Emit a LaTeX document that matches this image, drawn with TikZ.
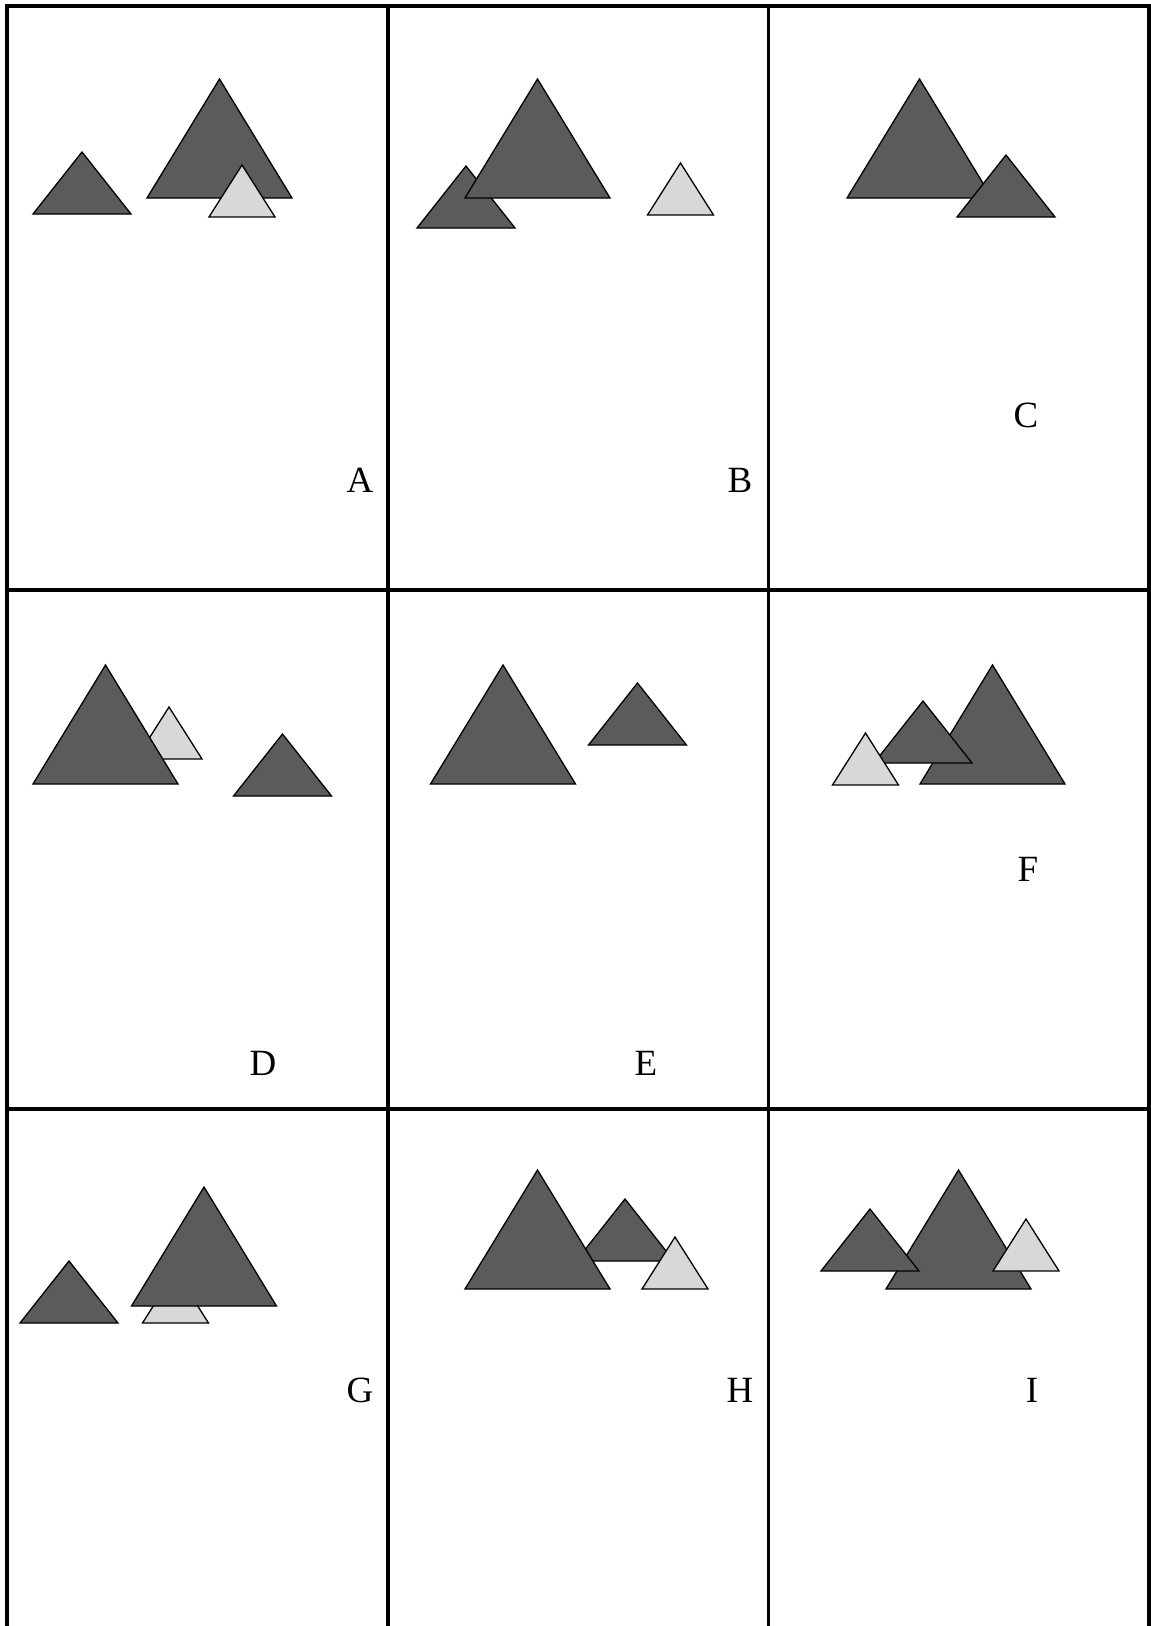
\documentclass[tikz,border=0pt]{standalone}
\usepackage{fontspec}
\setmainfont{Liberation Serif}
\definecolor{darkt}{HTML}{5B5B5B}
\definecolor{lightt}{HTML}{D8D8D8}
\tikzset{
  grid line/.style={line width=3.5pt, line cap=rect},
  darktri/.style={fill=darkt, draw=black, line width=1.3pt, line join=miter},
  lighttri/.style={fill=lightt, draw=black, line width=1.3pt, line join=miter},
  lbl/.style={font=\fontsize{37}{40}\selectfont, inner sep=0pt}
}
% \trib{apex x}{apex y}{half width}{height}{style}
\newcommand{\trib}[5]{\path[#5] (#1,#2) -- ({#1-#3},{#2+#4}) -- ({#1+#3},{#2+#4}) -- cycle;}
\newcommand{\bigt}[2]{\trib{#1}{#2}{72.5}{119}{darktri}}
\newcommand{\smallt}[2]{\trib{#1}{#2}{49}{62}{darktri}}
\newcommand{\lightt}[2]{\trib{#1}{#2}{33}{52}{lighttri}}
\begin{document}
\begin{tikzpicture}[x=1pt,y=-1pt]
\useasboundingbox (0,0) rectangle (1151,1626);
% grid
\draw[grid line] (7,1630) -- (7,6) -- (1149,6) -- (1149,1630);
\draw[grid line] (388,6) -- (388,1630);
\draw[grid line] (768.5,6) -- (768.5,1630);
\draw[grid line] (7,590) -- (1149,590);
\draw[grid line] (7,1109) -- (1149,1109);
% Panel A
\smallt{82}{152}
\bigt{219.5}{79}
\lightt{242}{165}
\node[lbl] (la) at (360,480.5) {A};
% Panel B
\smallt{466}{166}
\bigt{537.5}{79}
\lightt{680.5}{163}
\node[lbl] (lb) at (740,480.5) {B};
% Panel C
\bigt{919.5}{79}
\smallt{1006}{155}
\node[lbl] (lc) at (1026,415) {C};
% Panel D
\lightt{169}{707}
\bigt{105.5}{665}
\smallt{282.5}{734}
\node[lbl] (ld) at (263,1063.5) {D};
% Panel E
\bigt{503}{665}
\smallt{637.5}{683}
\node[lbl] (le) at (646,1063.5) {E};
% Panel F
\bigt{992.5}{665}
\smallt{923}{701}
\lightt{865.5}{733}
\node[lbl] (lf) at (1028,869.5) {F};
% Panel G
\lightt{175.5}{1271}
\bigt{204}{1187}
\smallt{69}{1261}
\node[lbl] (lg) at (360,1390.5) {G};
% Panel H
\smallt{625}{1199}
\bigt{537.5}{1170}
\lightt{675}{1237}
\node[lbl] (lh) at (740,1390.5) {H};
% Panel I
\bigt{958.5}{1170}
\smallt{870}{1209}
\lightt{1026}{1219}
\node[lbl] (li) at (1032,1390.5) {I};
\end{tikzpicture}
\end{document}
